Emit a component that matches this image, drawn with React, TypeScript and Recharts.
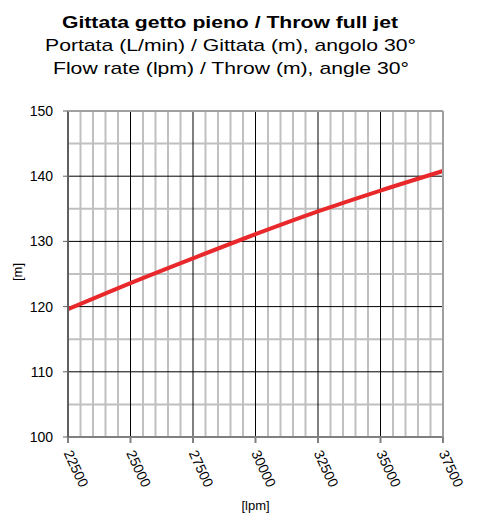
import React from "react";
import { LineChart, Line, XAxis, YAxis, CartesianGrid } from "recharts";

// flow rate [lpm] vs throw [m]
const flowRates = [22500, 25000, 27500, 30000, 32500, 35000, 37500];
const throwValues = [119.6, 123.6, 127.4, 131.1, 134.6, 137.8, 140.8];

const xTicks = [22500, 25000, 27500, 30000, 32500, 35000, 37500];
const yTicks = [100, 110, 120, 130, 140, 150];
const xMinor = [23000, 23500, 24000, 24500, 25500, 26000, 26500, 27000, 28000, 28500, 29000, 29500, 30500, 31000, 31500, 32000, 33000, 33500, 34000, 34500, 35500, 36000, 36500, 37000];
const yMinor = [105, 115, 125, 135, 145];

const FONT = "'Liberation Sans', Arial, sans-serif";
const LINE_COLOR = "#e8282b";

const data = flowRates.map((q, i) => ({ q, throw: throwValues[i] }));

function XTick(props: any) {
	const { x, y, payload } = props;
	const ay = y + 6;
	return (
		<text
			x={x}
			y={ay}
			transform={`rotate(65, ${x}, ${ay})`}
			textAnchor="start"
			dominantBaseline="central"
			fontSize={14}
			fontFamily={FONT}
			fill="#000"
		>
			{payload.value}
		</text>
	);
}

export default function App() {
	return (
		<div style={{ position: "absolute", left: 0, top: 0, width: 479, height: 514, background: "#fff" }}>
			<LineChart width={479} height={514} data={data} margin={{ top: 111, right: 36, left: 8, bottom: 17 }}>
				<CartesianGrid
					horizontal={true}
					vertical={true}
					horizontalValues={yMinor}
					verticalValues={xMinor}
					stroke="#c0c0c0"
					strokeWidth={2}
				/>
				<CartesianGrid
					horizontal={true}
					vertical={true}
					horizontalValues={yTicks}
					verticalValues={xTicks}
					stroke="#000"
					strokeWidth={1}
				/>
				<XAxis
					dataKey="q"
					type="number"
					domain={[22500, 37500]}
					ticks={xTicks}
					interval={0}
					height={60}
					tickSize={6}
					tick={<XTick />}
					axisLine={{ stroke: "#808080", strokeWidth: 2 }}
					tickLine={{ stroke: "#808080", strokeWidth: 2 }}
				/>
				<YAxis
					type="number"
					domain={[100, 150]}
					ticks={yTicks}
					interval={0}
					width={60}
					tickSize={5}
					tickMargin={10}
					tick={{ fontSize: 14, fontFamily: FONT, fill: "#000" }}
					axisLine={{ stroke: "#606060", strokeWidth: 2 }}
					tickLine={{ stroke: "#606060", strokeWidth: 1 }}
				/>
				<Line
					type="monotone"
					dataKey="throw"
					stroke={LINE_COLOR}
					strokeWidth={4}
					dot={false}
					isAnimationActive={false}
				/>
			</LineChart>
			<svg width={479} height={514} style={{ position: "absolute", left: 0, top: 0, pointerEvents: "none" }}>
				<line x1={68} y1={111} x2={443} y2={111} stroke="#a0a0a0" strokeWidth={2} />
				<line x1={443} y1={111} x2={443} y2={437} stroke="#a0a0a0" strokeWidth={2} />
				<text x={230} y={28} textAnchor="middle" fontSize={17} fontWeight="bold" fontFamily={FONT} textLength={336} lengthAdjust="spacingAndGlyphs">
					Gittata getto pieno / Throw full jet
				</text>
				<text x={230.5} y={51} textAnchor="middle" fontSize={17} fontFamily={FONT} textLength={371} lengthAdjust="spacingAndGlyphs">
					Portata (L/min) / Gittata (m), angolo 30°
				</text>
				<text x={231} y={74} textAnchor="middle" fontSize={17} fontFamily={FONT} textLength={356} lengthAdjust="spacingAndGlyphs">
					Flow rate (lpm) / Throw (m), angle 30°
				</text>
				<text x={255.5} y={510} textAnchor="middle" fontSize={13} fontFamily={FONT}>
					[lpm]
				</text>
				<text x={22} y={272} transform="rotate(-90, 22, 272)" textAnchor="middle" fontSize={13} fontFamily={FONT}>
					[m]
				</text>
			</svg>
		</div>
	);
}
